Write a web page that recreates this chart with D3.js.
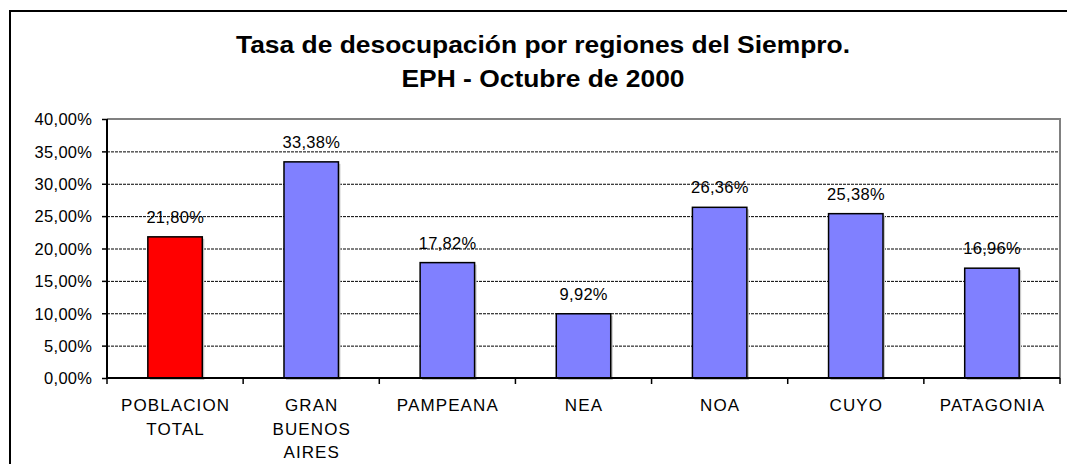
<!DOCTYPE html>
<html>
<head>
<meta charset="utf-8">
<script src="https://cdn.jsdelivr.net/npm/d3@7"></script>
<style>
  body { margin: 0; background: #fff; }
  svg { display: block; font-family: "Liberation Sans", Arial, sans-serif; }
</style>
</head>
<body>
<div id="chart"></div>
<script>
// chart data
const categories = ["POBLACION TOTAL", "GRAN BUENOS AIRES", "PAMPEANA", "NEA", "NOA", "CUYO", "PATAGONIA"];
const values = [21.80, 33.38, 17.82, 9.92, 26.36, 25.38, 16.96];
const barColors = ["#ff0000", "#8080ff", "#8080ff", "#8080ff", "#8080ff", "#8080ff", "#8080ff"];
const yTicks = [0, 5, 10, 15, 20, 25, 30, 35, 40];
const titleLines = ["Tasa de desocupación por regiones del Siempro.", "EPH - Octubre de 2000"];

const W = 1067, H = 464;
const plot = { left: 107, right: 1060, top: 119, bottom: 378 };
const fmt = v => v.toFixed(2).replace(".", ",") + "%";

const svg = d3.select("#chart").append("svg")
    .attr("width", W)
    .attr("height", H);

// outer chart frame (runs past the window on right and bottom)
svg.append("rect")
    .attr("x", 10).attr("y", 11)
    .attr("width", W + 20).attr("height", H + 20)
    .attr("fill", "#fff")
    .attr("stroke", "#000")
    .attr("stroke-width", 2);

// title (text is drawn a bit wide, like the original)
const titleX = 543;
svg.append("g")
    .attr("transform", `translate(${titleX},0) scale(1.1,1)`)
    .selectAll("text")
    .data(titleLines)
    .join("text")
    .attr("x", 0)
    .attr("y", (d, i) => 53 + i * 34)
    .attr("text-anchor", "middle")
    .attr("font-size", 24)
    .attr("font-weight", "bold")
    .attr("fill", "#000")
    .text(d => d);

const x = d3.scaleBand()
    .domain(categories)
    .range([plot.left, plot.right])
    .paddingInner(0.6)
    .paddingOuter(0.3);

const y = d3.scaleLinear()
    .domain([0, 40])
    .range([plot.bottom, plot.top]);

// gridlines
svg.append("g").selectAll("line")
    .data(yTicks.filter(t => t > 0 && t < 40))
    .join("line")
    .attr("x1", plot.left).attr("x2", plot.right)
    .attr("y1", d => y(d) + 0.5).attr("y2", d => y(d) + 0.5)
    .attr("stroke", "#000")
    .attr("stroke-width", 1)
    .attr("stroke-dasharray", "3,1");

// grey plot border top + right
svg.append("path")
    .attr("d", `M${plot.left},${plot.top} H${plot.right} V${plot.bottom}`)
    .attr("fill", "none")
    .attr("stroke", "#808080")
    .attr("stroke-width", 2);

// bar shadows
svg.append("g").selectAll("rect")
    .data(values)
    .join("rect")
    .attr("x", (d, i) => x(categories[i]) + 2)
    .attr("y", d => y(d) + 2)
    .attr("width", x.bandwidth())
    .attr("height", d => y(0) - y(d))
    .attr("fill", "#c8c8c8");

// bars
svg.append("g").selectAll("rect")
    .data(values)
    .join("rect")
    .attr("x", (d, i) => x(categories[i]))
    .attr("y", d => y(d))
    .attr("width", x.bandwidth())
    .attr("height", d => y(0) - y(d))
    .attr("fill", (d, i) => barColors[i])
    .attr("stroke", "#000")
    .attr("stroke-width", 1.5);

// value labels
svg.append("g").selectAll("text")
    .data(values)
    .join("text")
    .attr("x", (d, i) => x(categories[i]) + x.bandwidth() / 2 + 0.2)
    .attr("y", d => y(d) - 14)
    .attr("text-anchor", "middle")
    .attr("font-size", 16.5)
    .attr("letter-spacing", 0.3)
    .attr("fill", "#000")
    .text(d => fmt(d));

// y axis
const yAxis = svg.append("g")
    .attr("transform", `translate(${plot.left},0)`)
    .call(d3.axisLeft(y).tickValues(yTicks).tickSize(5).tickPadding(10).tickFormat(fmt));
yAxis.select(".domain").attr("stroke", "#000").attr("stroke-width", 2)
    .attr("d", `M0,${plot.top}V${plot.bottom + 1}`);
yAxis.selectAll(".tick line").attr("stroke", "#000").attr("stroke-width", 1.5);
yAxis.selectAll(".tick text")
    .attr("font-size", 16.5)
    .attr("font-family", null)
    .attr("letter-spacing", 0.3)
    .attr("dx", 0.3)
    .attr("dy", "0.35em")
    .attr("fill", "#000");

// x axis
const boundaries = d3.range(categories.length + 1)
    .map(i => plot.left + i * (plot.right - plot.left) / categories.length);
svg.append("line")
    .attr("x1", plot.left - 1).attr("x2", plot.right)
    .attr("y1", plot.bottom).attr("y2", plot.bottom)
    .attr("stroke", "#000").attr("stroke-width", 2);
svg.append("g").selectAll("line")
    .data(boundaries)
    .join("line")
    .attr("x1", d => d).attr("x2", d => d)
    .attr("y1", plot.bottom).attr("y2", plot.bottom + 6)
    .attr("stroke", "#000").attr("stroke-width", 1.5);

// category labels, one word per line
svg.append("g").selectAll("text")
    .data(categories)
    .join("text")
    .attr("x", d => x(d) + x.bandwidth() / 2 + 0.5)
    .attr("y", 411)
    .attr("text-anchor", "middle")
    .attr("font-size", 17)
    .attr("letter-spacing", 1.1)
    .attr("fill", "#000")
    .selectAll("tspan")
    .data(d => d.split(" "))
    .join("tspan")
    .attr("x", function () { return this.parentNode.getAttribute("x"); })
    .attr("dy", (d, i) => i === 0 ? 0 : 23.5)
    .text(d => d);
</script>
</body>
</html>
